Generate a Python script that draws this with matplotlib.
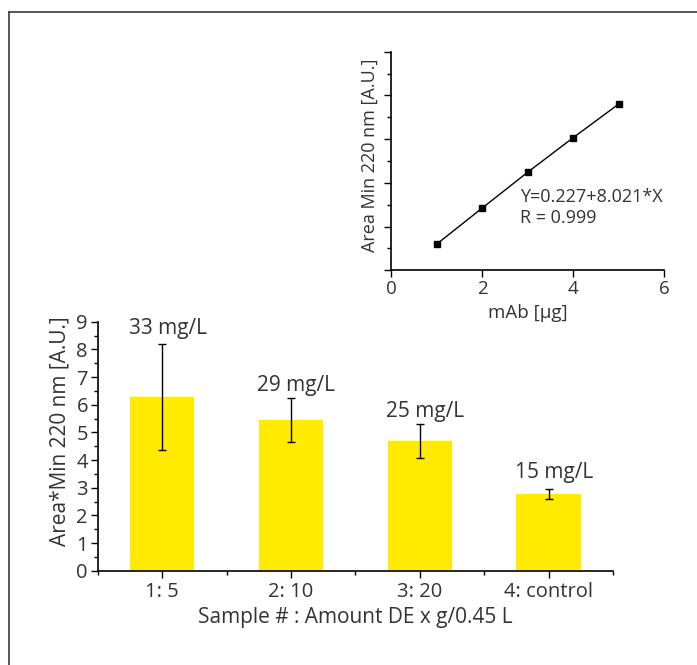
import matplotlib
matplotlib.use("Agg")
import matplotlib.pyplot as plt
from matplotlib.ticker import MultipleLocator
from matplotlib.lines import Line2D

plt.rcParams['font.family'] = ['Open Sans', 'DejaVu Sans']
plt.rcParams['font.weight'] = 'normal'

# Main bar chart data
categories = ["1: 5", "2: 10", "3: 20", "4: control"]
bar_values = [6.28, 5.45, 4.69, 2.77]
bar_errors = [1.90, 0.80, 0.61, 0.18]
bar_labels = ["33 mg/L", "29 mg/L", "25 mg/L", "15 mg/L"]
label_y = [8.77, 6.71, 5.77, 3.54]

# Inset calibration data
mab_ug = [1, 2, 3, 4, 5]
area_vals = [5.95, 14.2, 22.4, 30.3, 38.0]
fit_text = ["Y=0.227+8.021*X", "R = 0.999"]

W, H = 697, 665
fig = plt.figure(figsize=(W / 100, H / 100), dpi=100)

# frame lines
fig.add_artist(Line2D([9 / W, 9 / W], [0, 1 - 12 / H], color="#3a3a3a", lw=1.2))
fig.add_artist(Line2D([9 / W, 1], [1 - 12 / H, 1 - 12 / H], color="#3a3a3a", lw=1.2))

fs = 15
fst = 14.5
fsi = 13
tc = "#333333"
ax = fig.add_axes([97.7 / W, 1 - 570.7 / H, (613 - 97.7) / W, (570.7 - 321.7) / H])
x = list(range(1, len(categories) + 1))
ax.bar(x, bar_values, width=0.5, color="#ffea00", zorder=1)
ax.errorbar(x, bar_values, yerr=bar_errors, fmt="none", ecolor="black",
            elinewidth=1.0, capsize=3, capthick=1.0, zorder=3)
for xi, lab, ly in zip(x, bar_labels, label_y):
    ax.annotate(lab, (xi, ly), xytext=(4, 0), textcoords="offset points",
                ha="center", va="center", fontsize=fs, color=tc)
ax.set_xlim(0.5, 4.5)
ax.set_ylim(0, 9)
ax.set_xticks(x)
ax.set_xticklabels(categories)
ax.set_xticks([0.5, 1.5, 2.5, 3.5, 4.5], minor=True)
ax.yaxis.set_major_locator(MultipleLocator(1))
ax.yaxis.set_minor_locator(MultipleLocator(0.5))
for s in ["top", "right"]:
    ax.spines[s].set_visible(False)
for s in ["left", "bottom"]:
    ax.spines[s].set_linewidth(1.2)
ax.tick_params(axis="both", which="major", labelsize=fst, direction="out", length=5,
               width=1.0, labelcolor=tc)
ax.tick_params(axis="both", which="minor", direction="out", length=3, width=1.0)
ax.tick_params(axis="x", which="major", pad=3)
ax.tick_params(axis="y", which="major", pad=2)
ax.set_xlabel("Sample # : Amount DE x g/0.45 L", fontsize=fs, color=tc)
ax.xaxis.set_label_coords(0.499, -0.145)
ax.set_ylabel("Area*Min 220 nm [A.U.]", fontsize=fs, color=tc)
ax.yaxis.set_label_coords(-0.052, 0.561)

# Inset
ai = fig.add_axes([391 / W, 1 - 270.3 / H, (664 - 391) / W, (270.3 - 51.7) / H])
ai.plot(mab_ug, area_vals, color="black", lw=1.0, marker="s", markersize=4.5,
        markerfacecolor="black")
ai.set_xlim(0, 6)
ai.set_ylim(0, 50)
ai.set_xticks([0, 2, 4, 6])
ai.yaxis.set_major_locator(MultipleLocator(10))
ai.yaxis.set_minor_locator(MultipleLocator(5))
ai.set_yticklabels([])
for s in ["top", "right"]:
    ai.spines[s].set_visible(False)
for s in ["left", "bottom"]:
    ai.spines[s].set_linewidth(1.2)
ai.tick_params(axis="both", which="major", labelsize=fsi + 0.5, direction="out", length=5,
               width=1.0, labelcolor=tc, pad=2)
ai.tick_params(axis="y", which="minor", direction="out", length=3, width=1.0)
ai.set_xlabel("mAb [µg]", fontsize=fsi + 0.5, color=tc, labelpad=4)
ai.set_ylabel("Area Min 220 nm [A.U.]", fontsize=fsi, color=tc)
ai.yaxis.set_label_coords(-0.045, 0.527)
ai.text(520 / W, 1 - 196.7 / H, fit_text[0], transform=fig.transFigure, fontsize=fsi,
        ha="left", va="center", color=tc)
ai.text(520 / W, 1 - 218.5 / H, fit_text[1], transform=fig.transFigure, fontsize=fsi,
        ha="left", va="center", color=tc)

fig.savefig("out.png", dpi=100)
